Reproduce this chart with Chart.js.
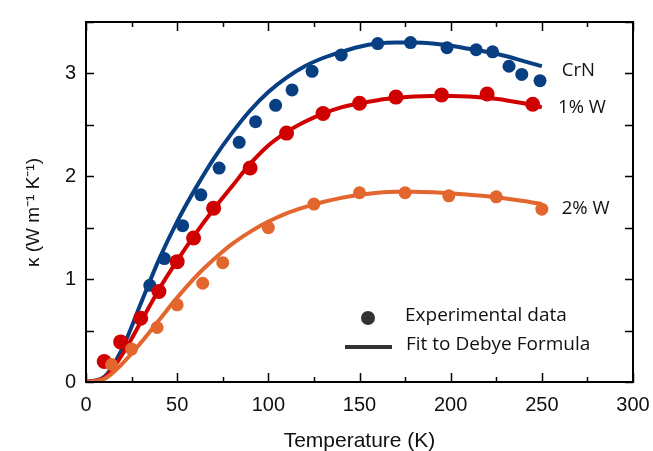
<!DOCTYPE html>
<html>
<head>
<meta charset="utf-8">
<script src="https://cdn.jsdelivr.net/npm/chart.js@4.4.1/dist/chart.umd.min.js"></script>
<style>
  html, body { margin: 0; padding: 0; background: #fff; }
  #wrap { width: 653px; height: 451px; }
</style>
</head>
<body>
<div id="wrap"><canvas id="chart" width="653" height="451"></canvas></div>
<script>
// measured points (T in K, kappa in W/mK)
const crnTemps = [35, 43, 53, 63, 73, 84, 93, 104, 113, 124, 140, 160, 178, 198, 214, 223, 232, 239, 249];
const crnKappa = [0.94, 1.2, 1.52, 1.82, 2.08, 2.33, 2.53, 2.69, 2.84, 3.02, 3.18, 3.29, 3.3, 3.25, 3.23, 3.21, 3.07, 2.99, 2.93];

const w1Temps = [10, 19, 30, 40, 50, 59, 70, 90, 110, 130, 150, 170, 195, 220, 245];
const w1Kappa = [0.2, 0.39, 0.62, 0.88, 1.17, 1.4, 1.69, 2.08, 2.42, 2.61, 2.71, 2.77, 2.79, 2.8, 2.7];

const w2Temps = [14, 25, 39, 50, 64, 75, 100, 125, 150, 175, 199, 225, 250];
const w2Kappa = [0.17, 0.32, 0.53, 0.75, 0.96, 1.16, 1.5, 1.73, 1.84, 1.84, 1.81, 1.8, 1.68];

// Debye fits
const fitTemps = [0, 10, 20, 30, 40, 50, 60, 70, 80, 90, 100, 110, 120, 130, 140, 150, 160, 170, 180, 190, 200, 210, 220, 230, 240, 250];
const crnFit = [0, 0.05, 0.33, 0.76, 1.19, 1.56, 1.88, 2.17, 2.42, 2.64, 2.82, 2.96, 3.07, 3.15, 3.21, 3.26, 3.29, 3.3, 3.3, 3.29, 3.27, 3.24, 3.21, 3.17, 3.12, 3.07];
const w1Fit = [0, 0.04, 0.27, 0.58, 0.9, 1.18, 1.44, 1.68, 1.9, 2.12, 2.3, 2.43, 2.53, 2.61, 2.67, 2.71, 2.74, 2.76, 2.775, 2.78, 2.78, 2.775, 2.76, 2.74, 2.71, 2.67];
const w2Fit = [0, 0.03, 0.18, 0.38, 0.6, 0.82, 1.02, 1.19, 1.34, 1.46, 1.56, 1.64, 1.7, 1.75, 1.79, 1.82, 1.84, 1.85, 1.85, 1.845, 1.835, 1.82, 1.805, 1.785, 1.76, 1.73];

const seriesNames = ["CrN", "1% W", "2% W"];
const seriesLabelPos = [[270, 3.03], [272, 2.67], [274, 1.68]];
const legendTexts = ["Experimental data", "Fit to Debye Formula"];

const blue = "#073f82";
const red = "#d10000";
const orange = "#e2662e";

function pts(xs, ys) {
  return xs.map((x, i) => ({ x: x, y: ys[i] }));
}

function pointSet(name, xs, ys, color, r) {
  return {
    label: name,
    data: pts(xs, ys),
    showLine: false,
    pointRadius: r,
    pointBackgroundColor: color,
    pointBorderWidth: 0,
    borderColor: color
  };
}

function fitSet(name, ys, color) {
  return {
    label: name + " fit",
    data: pts(fitTemps, ys),
    showLine: true,
    pointRadius: 0,
    borderColor: color,
    borderWidth: 4,
    cubicInterpolationMode: "monotone"
  };
}

const tickFont = { family: "'Liberation Sans', Arial, sans-serif", size: 20 };

// frame, inward ticks, series labels and the legend
const decorations = {
  id: "decorations",
  afterDatasetsDraw(chart) {
    const ctx = chart.ctx;
    const a = chart.chartArea;
    const xs = chart.scales.x;
    const ys = chart.scales.y;
    ctx.save();
    ctx.strokeStyle = "#000";
    ctx.lineWidth = 2;
    ctx.strokeRect(a.left, a.top, a.right - a.left, a.bottom - a.top);

    ctx.lineWidth = 1.5;
    ctx.beginPath();
    for (let t = 0; t <= 300; t += 25) {
      const px = Math.round(xs.getPixelForValue(t)) + 0.5;
      const len = t % 50 === 0 ? 9 : 5;
      ctx.moveTo(px, a.bottom); ctx.lineTo(px, a.bottom - len);
      ctx.moveTo(px, a.top); ctx.lineTo(px, a.top + len);
    }
    for (let k = 0; k <= 3.5; k += 0.5) {
      const py = Math.round(ys.getPixelForValue(k)) + 0.5;
      ctx.moveTo(a.left, py); ctx.lineTo(a.left + 8, py);
      ctx.moveTo(a.right, py); ctx.lineTo(a.right - 8, py);
    }
    ctx.stroke();

    ctx.fillStyle = "#111";
    ctx.font = "18.5px 'Open Sans', sans-serif";
    ctx.textAlign = "center";
    ctx.textBaseline = "middle";
    seriesNames.forEach((n, i) => {
      const p = seriesLabelPos[i];
      ctx.fillText(n, xs.getPixelForValue(p[0]), ys.getPixelForValue(p[1]));
    });

    // legend
    const lx = a.left + 282;
    const ly = a.top + 296;
    ctx.fillStyle = "#333";
    ctx.beginPath();
    ctx.arc(lx, ly, 7, 0, Math.PI * 2);
    ctx.fill();
    ctx.strokeStyle = "#333";
    ctx.lineWidth = 4;
    ctx.beginPath();
    ctx.moveTo(lx - 23, ly + 29);
    ctx.lineTo(lx + 24, ly + 29);
    ctx.stroke();
    ctx.fillStyle = "#111";
    ctx.textAlign = "left";
    ctx.font = "19px 'Open Sans', sans-serif";
    ctx.fillText(legendTexts[0], lx + 37, ly - 2);
    ctx.fillText(legendTexts[1], lx + 38, ly + 27);
    ctx.restore();
  }
};

new Chart(document.getElementById("chart"), {
  type: "scatter",
  data: {
    datasets: [
      pointSet("2% W", w2Temps, w2Kappa, orange, 6.5),
      pointSet("1% W", w1Temps, w1Kappa, red, 7.5),
      pointSet("CrN", crnTemps, crnKappa, blue, 6.5),
      fitSet("2% W", w2Fit, orange),
      fitSet("1% W", w1Fit, red),
      fitSet("CrN", crnFit, blue)
    ]
  },
  options: {
    responsive: false,
    animation: false,
    layout: { padding: { top: 14, right: 20, left: 0, bottom: 0 } },
    plugins: {
      legend: { display: false },
      tooltip: { enabled: false }
    },
    scales: {
      x: {
        type: "linear",
        min: 0,
        max: 300,
        grid: { display: false, drawTicks: false },
        border: { display: false },
        afterFit: s => {
          s.height = 69;
          s.paddingLeft = 0;
          s.paddingRight = 0;
        },
        ticks: {
          stepSize: 25,
          padding: 11,
          color: "#111",
          font: tickFont,
          maxRotation: 0,
          autoSkip: false,
          callback: v => (v % 50 === 0 ? v : "")
        },
        title: {
          display: true,
          text: "Temperature (K)",
          color: "#111",
          font: { family: "'Liberation Sans', Arial, sans-serif", size: 21 },
          padding: { top: 0, bottom: -3 }
        }
      },
      y: {
        min: 0,
        max: 3.5,
        grid: { display: false, drawTicks: false },
        border: { display: false },
        afterFit: s => { s.width = 86; },
        ticks: {
          stepSize: 0.5,
          padding: 10,
          color: "#111",
          font: tickFont,
          autoSkip: false,
          callback: v => (Number.isInteger(v) ? v : "")
        },
        title: {
          display: true,
          text: "κ (W m⁻¹ K⁻¹)    ",
          color: "#111",
          font: { family: "'Liberation Sans', Arial, sans-serif", size: 19 },
          padding: { top: 22, bottom: 0 }
        }
      }
    }
  },
  plugins: [decorations]
});
</script>
</body>
</html>
